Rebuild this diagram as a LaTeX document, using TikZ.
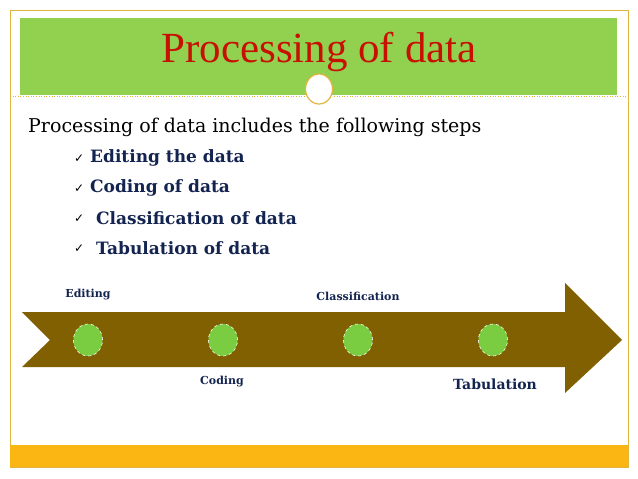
\documentclass[tikz,border=0pt]{standalone}
\usepackage{fontspec}
\usetikzlibrary{shapes.geometric}
\setmainfont{Liberation Serif}
\newfontfamily\symf{DejaVu Sans}
\newfontfamily\wide{DejaVu Serif}
\begin{document}
\begin{tikzpicture}[x=1pt,y=-1pt,
  item/.style={anchor=west,font=\wide\fontsize{17}{20}\selectfont\bfseries,text=navy,inner sep=0},
  chk/.style={anchor=west,font=\symf\fontsize{12}{14}\selectfont,inner sep=0},
  lab/.style={font=\wide\fontsize{11}{13}\selectfont\bfseries,text=navy,inner sep=0},
  dot/.style={ellipse,draw=white,dashed,fill=dotgreen,minimum width=29,minimum height=32,inner sep=0,line width=0.6pt}]
\definecolor{navy}{RGB}{20,36,80}
\definecolor{frame}{RGB}{225,180,60}
\definecolor{titlegreen}{RGB}{146,208,80}
\definecolor{titlered}{RGB}{200,16,0}
\definecolor{bar}{RGB}{252,182,20}
\definecolor{brownarrow}{RGB}{128,96,0}
\definecolor{dotgreen}{RGB}{122,204,64}
\useasboundingbox (0,0) rectangle (638,479);
\fill[white] (0,0) rectangle (638,479);
\draw[frame,line width=0.8pt] (10,10) rectangle (628,467);
\fill[bar] (10,445) rectangle (628,467);
\fill[titlegreen] (20,18) rectangle (617,95);
\node[text=titlered,font=\fontsize{43}{48}\selectfont] (title) at (319,52) {Processing of data};
\draw[frame,dotted,line width=0.6pt] (10,96) -- (304,96);
\draw[frame,dotted,line width=0.6pt] (334,96) -- (628,96);
\node[ellipse,draw=frame,fill=white,line width=1.2pt,minimum width=27,minimum height=30,inner sep=0] (ring) at (319,89) {};
\node[anchor=west,font=\wide\fontsize{19}{23}\selectfont,inner sep=0] (intro) at (28,127) {Processing of data includes the following steps};
\node[chk] (c1) at (74,159) {✓};
\node[chk] (c2) at (74,189) {✓};
\node[chk] (c3) at (74,219) {✓};
\node[chk] (c4) at (74,249) {✓};
\node[item] (i1) at (90,158) {Editing the data};
\node[item] (i2) at (90,188) {Coding of data};
\node[item] (i3) at (96,218) {Classification of data};
\node[item] (i4) at (96,248) {Tabulation of data};
\fill[brownarrow] (22,312) -- (565,312) -- (565,283) -- (622,340) -- (565,393) -- (565,367) -- (22,367) -- (50,340) -- cycle;
\node[dot] (d1) at (88,340) {};
\node[dot] (d2) at (223,340) {};
\node[dot] (d3) at (358,340) {};
\node[dot] (d4) at (493,340) {};
\node[lab] (l1) at (88,295) {Editing};
\node[lab] (l3) at (358,296) {Classification};
\node[lab] (l2) at (222,382) {Coding};
\node[lab,font=\wide\fontsize{14}{17}\selectfont\bfseries] (l4) at (495,384) {Tabulation};
\end{tikzpicture}
\end{document}
